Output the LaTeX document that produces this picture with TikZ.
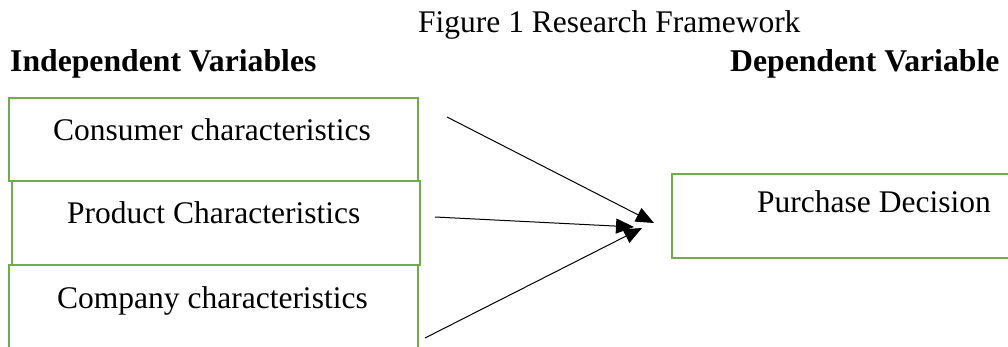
\documentclass[tikz,border=0pt]{standalone}
\usepackage{fontspec}
\setmainfont{Liberation Serif}
\usetikzlibrary{arrows.meta}
\definecolor{boxgreen}{RGB}{112,173,71}
\begin{document}
\begin{tikzpicture}[x=1pt,y=-1pt,
  box/.style={draw=boxgreen, line width=2.5pt, rectangle, inner sep=0pt, outer sep=0pt, anchor=north west},
  lbl/.style={anchor=base west, inner sep=0pt, font=\fontsize{31.5}{38}\selectfont},
  hd/.style={lbl, font=\fontsize{31.7}{38}\selectfont\bfseries},
  conn/.style={line width=1pt, -{Triangle[length=18pt,width=15pt]}}]
\useasboundingbox (0,0) rectangle (1008,347);
\clip (0,0) rectangle (1008,347);
\node[lbl] (title) at (418,33) {Figure 1 Research Framework};
\node[hd] (indep) at (10,72) {Independent Variables};
\node[hd] (dep) at (730,72) {Dependent Variable};
\node[box, minimum width=409pt, minimum height=83pt] (b1) at (9,98) {};
\node[box, minimum width=408pt, minimum height=84pt] (b2) at (12,181) {};
\node[box, minimum width=409pt, minimum height=100pt] (b3) at (9,265) {};
\node[box, minimum width=360pt, minimum height=84pt] (p) at (672,174) {};
\node[lbl] (t1) at (53,141) {Consumer characteristics};
\node[lbl] (t2) at (67,224) {Product Characteristics};
\node[lbl] (t3) at (57,308) {Company characteristics};
\node[lbl] (t4) at (757,213) {Purchase Decision};
\coordinate (s1) at (447,117);
\coordinate (e1) at (654,223);
\coordinate (s2) at (435,217);
\coordinate (e2) at (634,227);
\coordinate (s3) at (425,338);
\coordinate (e3) at (642,228);
\draw[conn] (s1) -- (e1);
\draw[conn] (s2) -- (e2);
\draw[conn] (s3) -- (e3);
\end{tikzpicture}
\end{document}
